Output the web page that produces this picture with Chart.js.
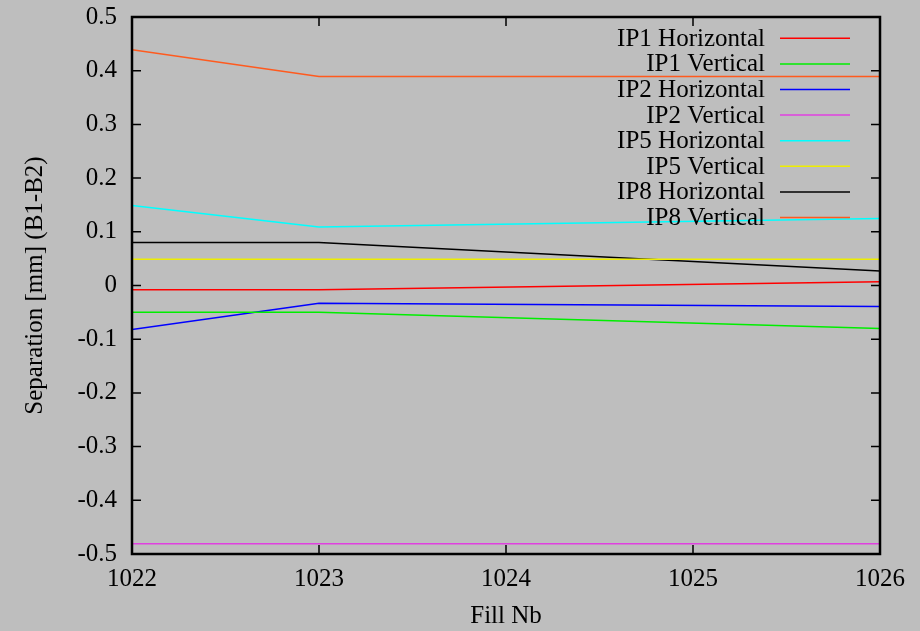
<!DOCTYPE html>
<html>
<head>
<meta charset="utf-8">
<script src="https://cdn.jsdelivr.net/npm/chart.js@4.4.1/dist/chart.umd.min.js"></script>
<style>
  html, body { margin: 0; padding: 0; background: #bebebe; }
  #wrap { width: 920px; height: 631px; }
</style>
</head>
<body>
<div id="wrap"><canvas id="graph"></canvas></div>
<script>
const fills = [1022, 1023, 1026]
const xTicks = [1022, 1023, 1024, 1025, 1026]
const yTicks = [-0.5, -0.4, -0.3, -0.2, -0.1, 0, 0.1, 0.2, 0.3, 0.4, 0.5]

const labels = ['IP1 Horizontal', 'IP1 Vertical', 'IP2 Horizontal', 'IP2 Vertical',
                'IP5 Horizontal', 'IP5 Vertical', 'IP8 Horizontal', 'IP8 Vertical']
const ip1H = [-0.008, -0.008, 0.007]
const ip1V = [-0.050, -0.050, -0.080]
const ip2H = [-0.082, -0.033, -0.039]
const ip2V = [-0.481, -0.481, -0.481]
const ip5H = [0.149, 0.109, 0.125]
const ip5V = [0.049, 0.049, 0.049]
const ip8H = [0.080, 0.080, 0.027]
const ip8V = [0.439, 0.389, 0.389]
const colors = ['#ff0000', '#00ee00', '#0000ff', '#e040e0', '#00ffff', '#eeee00', '#000000', '#ff5a1e']

const series = [ip1H, ip1V, ip2H, ip2V, ip5H, ip5V, ip8H, ip8V]
const font = 'Liberation Serif'

const frame = {
    id: 'frame',
    afterDatasetsDraw(chart) {
        const { ctx, chartArea: a, scales } = chart
        ctx.save()
        ctx.strokeStyle = '#000'
        ctx.lineWidth = 1.5
        const tl = 9
        xTicks.forEach(v => {
            const x = scales.x.getPixelForValue(v)
            ctx.beginPath()
            ctx.moveTo(x, a.bottom); ctx.lineTo(x, a.bottom - tl)
            ctx.moveTo(x, a.top); ctx.lineTo(x, a.top + tl)
            ctx.stroke()
        })
        yTicks.forEach(v => {
            const y = scales.y.getPixelForValue(v)
            ctx.beginPath()
            ctx.moveTo(a.left, y); ctx.lineTo(a.left + tl, y)
            ctx.moveTo(a.right, y); ctx.lineTo(a.right - tl, y)
            ctx.stroke()
        })
        ctx.lineWidth = 2.5
        ctx.strokeRect(a.left, a.top, a.right - a.left, a.bottom - a.top)

        // gnuplot style key
        ctx.font = '25px "' + font + '"'
        ctx.textAlign = 'right'
        ctx.textBaseline = 'middle'
        chart.data.datasets.forEach((ds, i) => {
            const y = 38.3 + 25.6 * i
            ctx.fillStyle = '#000'
            ctx.fillText(ds.label, 765, y + 1)
            ctx.strokeStyle = ds.borderColor
            ctx.lineWidth = 1.5
            ctx.beginPath()
            ctx.moveTo(780, y); ctx.lineTo(850, y)
            ctx.stroke()
        })
        ctx.restore()
    }
}

const myChart = new Chart(
    document.getElementById('graph'),
    {
        type: 'line',
        data: {
            datasets: series.map((vals, i) => ({
                label: labels[i],
                data: vals.map((v, j) => ({ x: fills[j], y: v })),
                borderColor: colors[i],
                borderWidth: 1.5,
                pointRadius: 0,
                tension: 0,
                fill: false
            }))
        },
        options: {
            responsive: true,
            maintainAspectRatio: false,
            animation: false,
            layout: { padding: { top: 17, right: 40, left: 0, bottom: 0 } },
            plugins: { legend: { display: false }, tooltip: { enabled: false } },
            scales: {
                x: {
                    type: 'linear',
                    min: 1022, max: 1026,
                    afterBuildTicks: s => { s.ticks = xTicks.map(v => ({ value: v })) },
                    afterFit: s => { s.height = 77; s.paddingLeft = 0; s.paddingRight = 0 },
                    grid: { display: false, drawTicks: false },
                    border: { display: false },
                    ticks: { color: '#000', padding: 10, font: { family: font, size: 25 },
                             maxRotation: 0, callback: v => String(v) },
                    title: { display: true, text: 'Fill Nb', color: '#000',
                             font: { family: font, size: 25 }, padding: { top: 0, bottom: 0 } }
                },
                y: {
                    min: -0.5, max: 0.5,
                    afterBuildTicks: s => { s.ticks = yTicks.map(v => ({ value: v })) },
                    afterFit: s => { s.width = 132; s.paddingTop = 0; s.paddingBottom = 0 },
                    grid: { display: false, drawTicks: false },
                    border: { display: false },
                    ticks: { color: '#000', padding: 15, font: { family: font, size: 25 },
                             callback: v => String(Number(v.toFixed(1))) },
                    title: { display: true, text: 'Separation [mm] (B1-B2)', color: '#000',
                             font: { family: font, size: 25 }, padding: { top: 20, bottom: 0 } }
                }
            }
        },
        plugins: [frame]
    }
)
</script>
</body>
</html>
